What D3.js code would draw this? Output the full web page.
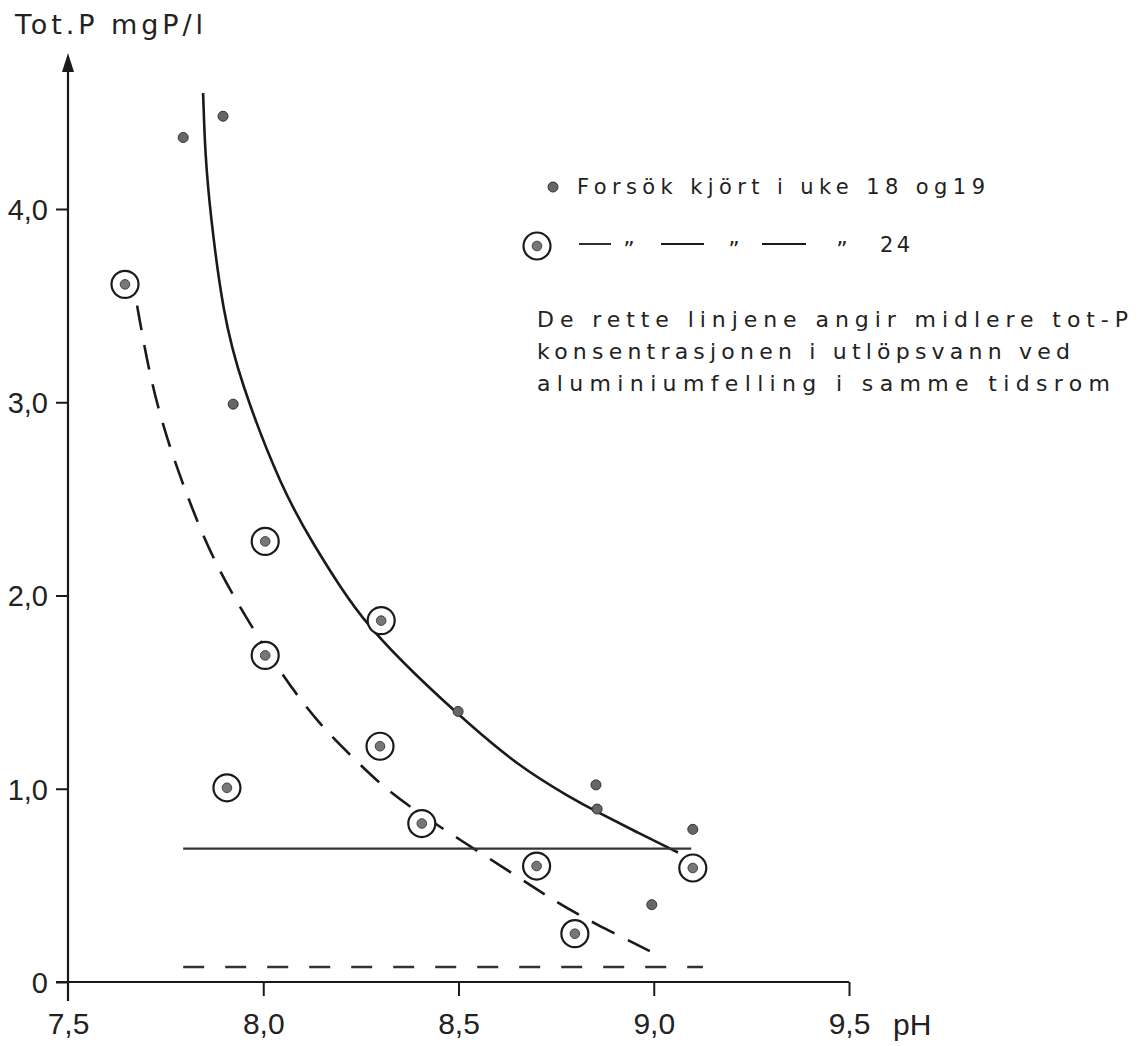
<!DOCTYPE html>
<html>
<head>
<meta charset="utf-8">
<script src="https://cdn.jsdelivr.net/npm/d3@7"></script>
<style>
  html, body { margin: 0; padding: 0; background: #fff; }
  svg { display: block; }
  text { font-family: "DejaVu Sans", sans-serif; fill: #222; }
</style>
</head>
<body>
<script>
// ---------- data ----------
const xTicks = [7.5, 8.0, 8.5, 9.0, 9.5];
const xTickLabels = ["7,5", "8,0", "8,5", "9,0", "9,5"];
const yTicks = [0, 1, 2, 3, 4];
const yTickLabels = ["0", "1,0", "2,0", "3,0", "4,0"];

// Forsök kjört i uke 18 og 19 (dots)
const week1819PH = [7.795, 7.897, 7.923, 8.499, 8.852, 8.855, 9.10, 8.995];
const week1819P  = [4.37, 4.48, 2.99, 1.40, 1.02, 0.895, 0.79, 0.40];

// Forsök kjört i uke 24 (circled dots)
const week24PH = [7.646, 8.005, 8.005, 7.907, 8.302, 8.299, 8.406, 8.70, 8.798, 9.10];
const week24P  = [3.61, 2.28, 1.69, 1.005, 1.87, 1.22, 0.82, 0.60, 0.25, 0.59];

// fitted curve, uke 18/19 (solid)
const curve1819PH = [7.846, 7.851, 7.864, 7.897, 7.94, 8.048, 8.133, 8.197, 8.266, 8.383, 8.529, 8.657, 8.786, 8.855, 8.957, 9.062];
const curve1819P  = [4.60, 4.29, 3.98, 3.46, 3.115, 2.546, 2.25, 2.044, 1.847, 1.60, 1.33, 1.113, 0.955, 0.88, 0.775, 0.67];

// fitted curve, uke 24 (dashed)
const curve24PH = [7.677, 7.71, 7.753, 7.805, 7.864, 7.933, 8.05, 8.145, 8.23, 8.307, 8.38, 8.504, 8.645, 8.752, 8.86, 8.99];
const curve24P  = [3.50, 3.125, 2.81, 2.515, 2.22, 1.96, 1.58, 1.33, 1.16, 1.01, 0.90, 0.735, 0.554, 0.41, 0.29, 0.16];

// mean tot-P with aluminium precipitation (straight lines)
const alumSolidPH = [7.795, 9.096];
const alumSolidP  = [0.69, 0.69];
const alumDashPH  = [7.795, 9.126];
const alumDashP   = [0.078, 0.078];

const noteLines = [
  "De rette linjene angir midlere tot-P",
  "konsentrasjonen i utlöpsvann ved",
  "aluminiumfelling i samme tidsrom"
];

// ---------- drawing ----------
const W = 1144, H = 1046;
const svg = d3.select("body").append("svg").attr("width", W).attr("height", H);

const x = d3.scaleLinear().domain([7.5, 9.5]).range([68, 849]);
const y = d3.scaleLinear().domain([0, 4]).range([982, 209]);
const ink = "#1a1a1a";
const tickFont = "Liberation Sans, Arial, sans-serif";

// x axis
const xAxis = d3.axisBottom(x).tickValues(xTicks).tickSize(14).tickSizeOuter(0)
  .tickFormat((d, i) => xTickLabels[i]);
const gx = svg.append("g").attr("transform", `translate(0,${y(0)})`).call(xAxis);
gx.select(".domain").remove();
gx.selectAll(".tick line").attr("stroke", ink).attr("stroke-width", 2);
gx.selectAll(".tick text").attr("y", 52).attr("dy", 0).attr("font-size", 30)
  .style("font-family", tickFont).attr("fill", "#222");
gx.select(".tick:first-of-type line").remove();

// y axis
const yAxis = d3.axisLeft(y).tickValues(yTicks).tickSize(12).tickSizeOuter(0)
  .tickFormat((d, i) => yTickLabels[i]);
const gy = svg.append("g").attr("transform", `translate(${x(7.5)},0)`).call(yAxis);
gy.select(".domain").remove();
gy.selectAll(".tick line").attr("stroke", ink).attr("stroke-width", 2);
gy.selectAll(".tick text").attr("x", -20).attr("dy", "0.36em").attr("font-size", 29)
  .style("font-family", tickFont).attr("fill", "#222");

// axis lines
svg.append("line").attr("x1", x(7.5) - 12).attr("x2", x(9.5))
  .attr("y1", y(0)).attr("y2", y(0)).attr("stroke", ink).attr("stroke-width", 2);
svg.append("line").attr("x1", x(7.5)).attr("x2", x(7.5))
  .attr("y1", y(0) + 19).attr("y2", 66).attr("stroke", ink).attr("stroke-width", 2.2);
// arrow head
svg.append("path")
  .attr("d", `M${x(7.5)},53 L${x(7.5) - 6},72 L${x(7.5) + 6},72 Z`)
  .attr("fill", ink);

// axis titles
svg.append("text").attr("x", 15).attr("y", 34).attr("font-size", 27)
  .attr("textLength", 188).attr("lengthAdjust", "spacing")
  .text("Tot.P mgP/l");
svg.append("text").attr("x", 893).attr("y", 1035).attr("font-size", 30)
  .style("font-family", tickFont).text("pH");

// lines
const lineGen = d3.line().x(d => x(d[0])).y(d => y(d[1])).curve(d3.curveBasis);
const straight = d3.line().x(d => x(d[0])).y(d => y(d[1]));

svg.append("path").datum(d3.zip(curve1819PH, curve1819P))
  .attr("d", lineGen).attr("fill", "none").attr("stroke", ink).attr("stroke-width", 2.6);
svg.append("path").datum(d3.zip(curve24PH, curve24P))
  .attr("d", lineGen).attr("fill", "none").attr("stroke", ink).attr("stroke-width", 2.6)
  .attr("stroke-dasharray", "25 15");
svg.append("path").datum(d3.zip(alumSolidPH, alumSolidP))
  .attr("d", straight).attr("fill", "none").attr("stroke", "#333").attr("stroke-width", 2.4);
svg.append("path").datum(d3.zip(alumDashPH, alumDashP))
  .attr("d", straight).attr("fill", "none").attr("stroke", "#333").attr("stroke-width", 2.4)
  .attr("stroke-dasharray", "21 21");

// points
svg.append("g").selectAll("circle").data(d3.zip(week1819PH, week1819P)).join("circle")
  .attr("cx", d => x(d[0])).attr("cy", d => y(d[1])).attr("r", 5)
  .attr("fill", "#666").attr("stroke", "#333").attr("stroke-width", 1);

const g24 = svg.append("g").selectAll("g").data(d3.zip(week24PH, week24P)).join("g")
  .attr("transform", d => `translate(${x(d[0])},${y(d[1])})`);
g24.append("circle").attr("r", 13.5).attr("fill", "#fff").attr("stroke", ink).attr("stroke-width", 2.2);
g24.append("circle").attr("r", 4.8).attr("fill", "#777").attr("stroke", "#444").attr("stroke-width", 1);

// legend
const lg = svg.append("g");
lg.append("circle").attr("cx", 553).attr("cy", 187).attr("r", 5)
  .attr("fill", "#666").attr("stroke", "#333");
lg.append("text").attr("x", 577).attr("y", 194).attr("font-size", 21)
  .attr("textLength", 408).attr("lengthAdjust", "spacing").text("Forsök kjört i uke 18 og19");

lg.append("circle").attr("cx", 537).attr("cy", 246).attr("r", 13.5)
  .attr("fill", "#fff").attr("stroke", ink).attr("stroke-width", 2.2);
lg.append("circle").attr("cx", 537).attr("cy", 246).attr("r", 4.8)
  .attr("fill", "#777").attr("stroke", "#444");
const segs = [[579, 611], [661, 704], [762, 806]];
lg.selectAll("line.seg").data(segs).join("line").attr("class", "seg")
  .attr("x1", d => d[0]).attr("x2", d => d[1]).attr("y1", 244).attr("y2", 244)
  .attr("stroke", ink).attr("stroke-width", 1.8);
const quotes = [629, 734, 842];
lg.selectAll("text.q").data(quotes).join("text").attr("class", "q")
  .attr("x", d => d).attr("y", 257).attr("font-size", 22).attr("text-anchor", "middle").text("\u201D");
lg.append("text").attr("x", 880).attr("y", 252).attr("font-size", 21)
  .attr("textLength", 30).attr("lengthAdjust", "spacing").text("24");

// note
const noteWidths = [591, 533, 573];
lg.selectAll("text.note").data(noteLines).join("text").attr("class", "note")
  .attr("x", 537).attr("y", (d, i) => 327 + i * 32).attr("font-size", 22)
  .attr("textLength", (d, i) => noteWidths[i]).attr("lengthAdjust", "spacing")
  .text(d => d);
</script>
</body>
</html>
